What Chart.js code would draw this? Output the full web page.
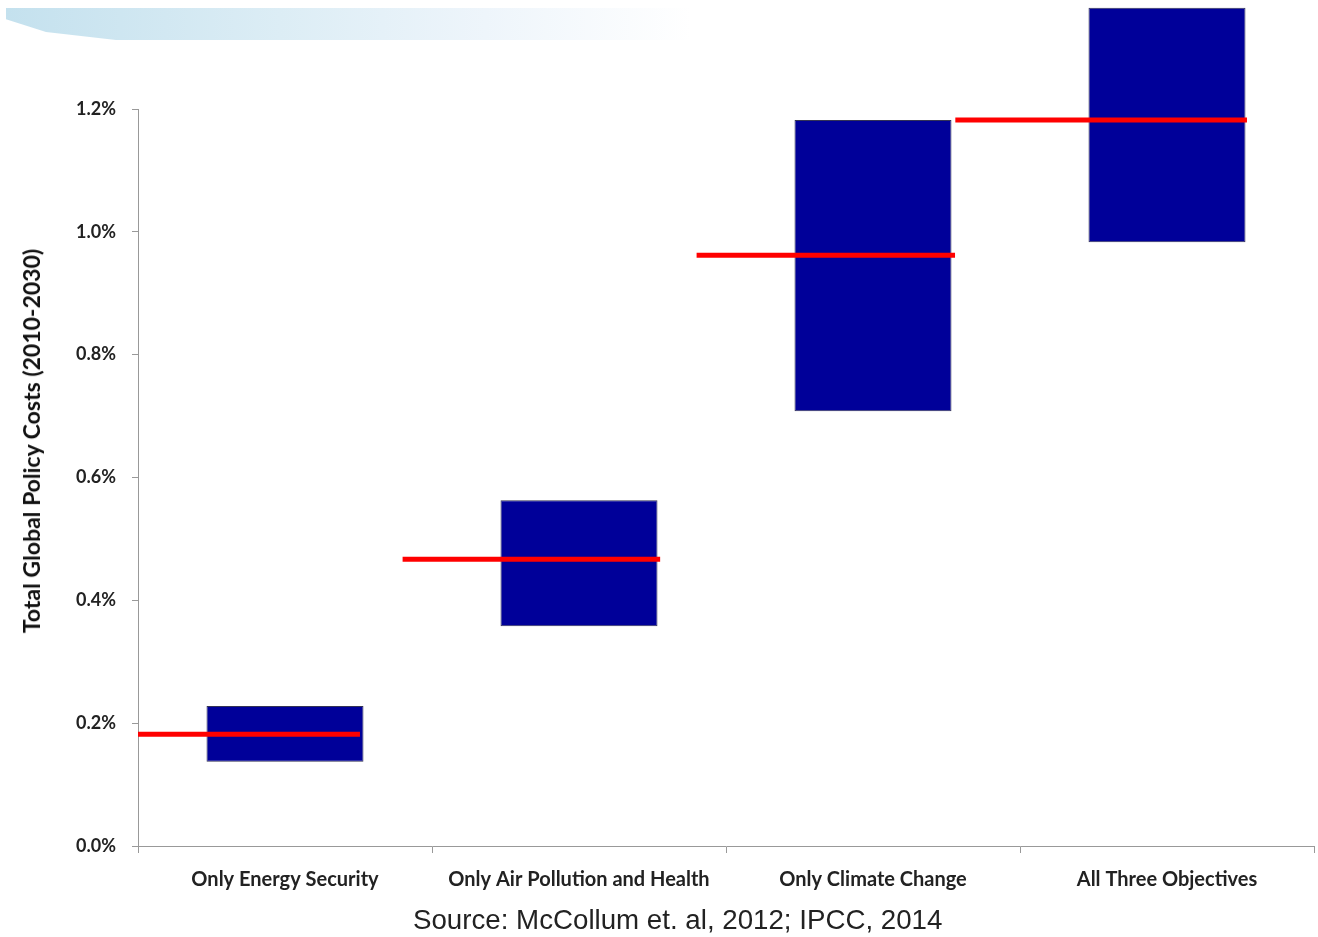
<!DOCTYPE html>
<html>
<head>
<meta charset="utf-8">
<script src="https://cdn.jsdelivr.net/npm/chart.js@4.4.1/dist/chart.umd.min.js"></script>
<style>
  body { margin: 0; background: #fff; }
  #wrap { position: relative; width: 1318px; height: 937px; overflow: hidden; }
  #band {
    position: absolute; left: 6px; top: 8px; width: 685px; height: 32px;
    background: linear-gradient(to right, #c4e1ee, #dcedf5 40%, #eef5fb 70%, #ffffff);
    clip-path: polygon(0 0, 100% 0, 100% 100%, 110px 100%, 40px 75%, 0 35%);
  }
  #ytitle {
    position: absolute; left: 31px; top: 441px;
    transform: translate(-50%, -50%) rotate(-90deg);
    font: bold 23px Lato, sans-serif; color: #111; white-space: nowrap;
  }
  #source {
    position: absolute; left: 413px; top: 904px; line-height: 32px;
    font: 27.7px "Liberation Sans", Arial, sans-serif; color: #222; white-space: nowrap;
  }
  canvas { position: absolute; left: 0; top: 0; }
</style>
</head>
<body>
<div id="wrap">
  <div id="band"></div>
  <canvas id="grafico" width="1318" height="937"></canvas>
  <div id="ytitle">Total Global Policy Costs (2010-2030)</div>
  <div id="source">Source: McCollum et. al, 2012; IPCC, 2014</div>
</div>
<script>
const categorias = ['Only Energy Security', 'Only Air Pollution and Health', 'Only Climate Change', 'All Three Objectives'];
const custoMin = [0.137, 0.358, 0.708, 0.983];
const custoMax = [0.228, 0.563, 1.182, 1.365];
const custoMedio = [0.182, 0.467, 0.962, 1.182];
// extent of each red line, in category units
const linhaInicio = [-0.5, 0.40, 1.40, 2.28];
const linhaFim = [0.255, 1.276, 2.279, 3.272];
const yTicks = [0, 0.2, 0.4, 0.6, 0.8, 1.0, 1.2];

const barras = categorias.map((c, i) => [custoMin[i], custoMax[i]]);

const linhas = custoMedio.map((v, i) => ({
  type: 'line',
  xAxisID: 'x2',
  data: [{ x: linhaInicio[i], y: v }, { x: linhaFim[i], y: v }],
  borderColor: '#ff0000',
  borderWidth: 5,
  pointRadius: 0,
  clip: false,
  order: 1
}));

const ctx = document.getElementById('grafico').getContext('2d');
const meuChart = new Chart(ctx, {
  type: 'bar',
  data: {
    labels: categorias,
    datasets: [{
      label: 'Range',
      data: barras,
      backgroundColor: '#000099',
      borderColor: '#333355',
      borderWidth: 1,
      borderSkipped: false,
      grouped: false,
      barPercentage: 0.534,
      categoryPercentage: 1,
      clip: false,
      order: 2
    }, ...linhas]
  },
  options: {
    responsive: false,
    animation: false,
    layout: { padding: { top: 109, right: 4, bottom: 0, left: 0 } },
    plugins: { legend: { display: false }, tooltip: { enabled: false } },
    scales: {
      x: {
        offset: true,
        grid: { offset: true, drawOnChartArea: false, color: '#999', tickLength: 7 },
        border: { color: '#999' },
        ticks: { color: '#222', font: { family: 'Lato', weight: 'bold', size: 20 }, padding: 15, maxRotation: 0 },
        afterFit: s => { s.height = 91; }
      },
      x2: {
        type: 'linear', display: false, offset: false, min: -0.5, max: 3.5
      },
      y: {
        min: 0, max: 1.2,
        afterBuildTicks: s => { s.ticks = yTicks.map(v => ({ value: v })); },
        grid: { drawOnChartArea: false, color: '#999', tickLength: 6 },
        border: { color: '#999' },
        ticks: {
          color: '#222', font: { family: 'Lato', weight: 'bold', size: 18 }, padding: 16,
          callback: v => v.toFixed(1) + '%'
        },
        afterFit: s => { s.width = 138; }
      }
    }
  }
});
</script>
</body>
</html>
